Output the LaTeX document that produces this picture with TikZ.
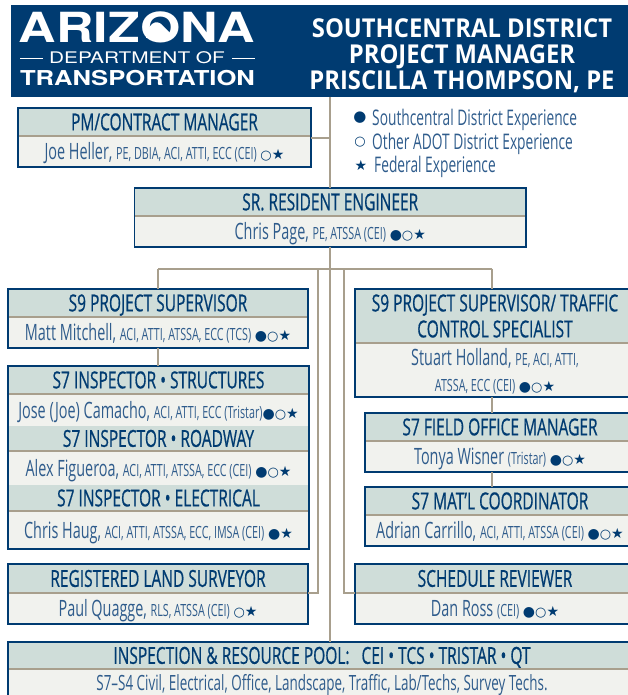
\documentclass[tikz,border=0pt]{standalone}
\usepackage{fontspec}
\setmainfont{Open Sans}
\newfontfamily\rolefont[FakeStretch=0.66,FakeBold=0.6]{Open Sans}
\newfontfamily\namefont[FakeStretch=0.64]{Open Sans}
\newfontfamily\headfont[FakeStretch=0.915]{Open Sans Bold}
\newfontfamily\logobold[FakeStretch=1.25]{TeX Gyre Heros Bold}
\newfontfamily\logothin[FakeStretch=1.30]{TeX Gyre Heros}
\newfontfamily\symfont{DejaVu Sans}
\definecolor{navy}{HTML}{003B71}
\definecolor{inkblue}{HTML}{2F5C8C}
\definecolor{rolefill}{HTML}{CFDDD9}
\definecolor{namefill}{HTML}{F1F2EE}
\definecolor{linktan}{HTML}{A89F8D}
\newcommand{\quals}[1]{{\fontsize{16.8}{18}\selectfont #1}}
\newcommand{\fullm}{{\fontsize{14}{14}\selectfont ●}}
\newcommand{\ringm}{{\fontsize{13}{14}\selectfont ○}}
\newcommand{\starm}{{\fontsize{14}{14}\selectfont ★}}
\newcommand{\exmarks}[1]{{\symfont\color{navy}#1}}
\tikzset{
	rolecell/.style={anchor=north west, inner sep=0pt, outer sep=0pt, fill=rolefill, text=navy, align=center, font=\rolefont\fontsize{23.5}{26}\selectfont, text height=20pt, text depth=3.3pt},
	namecell/.style={anchor=north west, inner sep=0pt, outer sep=0pt, fill=namefill, text=inkblue, align=center, font=\namefont\fontsize{22.5}{26}\selectfont, text height=20pt, text depth=3.9pt},
	tworole/.style={text height=47.3pt, text depth=4.5pt},
	twoname/.style={text height=47pt, text depth=4.9pt},
	legendtext/.style={anchor=west, inner sep=0pt, text=inkblue, font=\namefont\fontsize{21.5}{24}\selectfont},
	legendmark/.style={anchor=center, inner sep=0pt, text=navy, font=\symfont},
	rule/.style={draw=linktan, line width=1.5pt},
	frame/.style={draw=navy, line width=1.5pt},
	link/.style={draw=linktan, line width=2pt}
}
\begin{document}
\begin{tikzpicture}[x=1pt, y=-1pt]
			\useasboundingbox (0,0) rectangle (628,695);
			% capcalera
			\node[anchor=north west, inner sep=0pt, fill=navy, minimum width=625pt, minimum height=91.5pt] (hdr) at (11,5) {};
			\node[text=white, inner sep=0pt, font=\logobold\fontsize{41.5}{42}\selectfont] (logoa) at (137,27) {ARIZONA};
			\node[text=white, inner sep=0pt, font=\logothin\fontsize{16}{16}\selectfont] (logob) at (137,58) {DEPARTMENT OF};
			\node[text=white, inner sep=0pt, font=\logobold\fontsize{20.5}{20}\selectfont] (logoc) at (137.5,78.5) {TRANSPORTATION};
			\fill[white] (146,31) -- (152,24) .. controls (156,21) and (160,22) .. (163,26) -- (170,33) -- (172,38) -- (146,38) -- cycle;
			\coordinate (logoll) at (20,58);
			\coordinate (logolr) at (43,58);
			\coordinate (logorl) at (232,58);
			\coordinate (logorr) at (255,58);
			\draw[white, line width=0.7pt] (logoll) -- (logolr);
			\draw[white, line width=0.7pt] (logorl) -- (logorr);
			\node[text=white, inner sep=0pt, align=center, font=\headfont\fontsize{26}{26}\selectfont] (hdrtext) at (462,56) {SOUTHCENTRAL DISTRICT\\PROJECT MANAGER\\PRISCILLA THOMPSON, PE};
			% llegenda
			\node[legendmark] (legm1) at (360,118) {\fontsize{15}{15}\selectfont ●};
			\node[legendmark] (legm2) at (360,142) {\fontsize{13}{15}\selectfont ○};
			\node[legendmark] (legm3) at (361,165) {\fontsize{14}{15}\selectfont ★};
			\node[legendtext] (leg1) at (372,120) {Southcentral District Experience};
			\node[legendtext] (leg2) at (372,144) {Other ADOT District Experience};
			\node[legendtext] (leg3) at (374,167) {Federal Experience};
			% pm/contract manager
			\node[rolecell, minimum width=293pt, minimum height=28pt] (pmrole) at (18,108) {PM/CONTRACT MANAGER};
			\node[namecell, minimum width=293pt, minimum height=31pt] (pmname) at (18,136) {Joe Heller, \quals{PE, DBIA, ACI, ATTI, ECC (CEI)} \exmarks{\ringm\starm}};
			\draw[rule] (pmrole.south west) -- (pmrole.south east);
			\draw[frame] (pmrole.north west) rectangle (pmname.south east);
			% sr resident engineer
			\node[rolecell, minimum width=391.5pt, minimum height=28pt] (srrole) at (134.5,188) {SR. RESIDENT ENGINEER};
			\node[namecell, minimum width=391.5pt, minimum height=31pt] (srname) at (134.5,216) {Chris Page, \quals{PE, ATSSA (CEI)} \exmarks{\fullm\ringm\starm}};
			\draw[rule] (srrole.south west) -- (srrole.south east);
			\draw[frame] (srrole.north west) rectangle (srname.south east);
			% s9 esquerra
			\node[rolecell, minimum width=300pt, minimum height=28pt] (svrole) at (8,289) {S9 PROJECT SUPERVISOR};
			\node[namecell, minimum width=300pt, minimum height=31pt] (svname) at (8,317) {Matt Mitchell, \quals{ACI, ATTI, ATSSA, ECC (TCS)} \exmarks{\fullm\ringm\starm}};
			\draw[rule] (svrole.south west) -- (svrole.south east);
			\draw[frame] (svrole.north west) rectangle (svname.south east);
			% s7 inspectors
			\node[rolecell, minimum width=301pt, minimum height=28pt] (strole) at (8,366) {S7 INSPECTOR • STRUCTURES};
			\node[namecell, minimum width=301pt, minimum height=32pt] (stname) at (8,394) {Jose (Joe) Camacho, \quals{ACI, ATTI, ECC (Tristar)}\exmarks{\fullm\ringm\starm}};
			\node[rolecell, minimum width=301pt, minimum height=25pt] (rdrole) at (8,426) {S7 INSPECTOR • ROADWAY};
			\node[namecell, minimum width=301pt, minimum height=34pt] (rdname) at (8,451) {Alex Figueroa, \quals{ACI, ATTI, ATSSA, ECC (CEI)} \exmarks{\fullm\ringm\starm}};
			\node[rolecell, minimum width=301pt, minimum height=26pt] (elrole) at (8,485) {S7 INSPECTOR • ELECTRICAL};
			\node[namecell, minimum width=301pt, minimum height=38pt] (elname) at (8,511) {Chris Haug, \quals{ACI, ATTI, ATSSA, ECC, IMSA (CEI)} \exmarks{\fullm\starm}};
			\draw[rule] (strole.south west) -- (strole.south east);
			\draw[rule] (rdrole.south west) -- (rdrole.south east);
			\draw[rule] (elrole.south west) -- (elrole.south east);
			\draw[frame] (strole.north west) rectangle (elname.south east);
			% s9 dreta
			\node[rolecell, tworole, minimum width=280pt, minimum height=54pt] (tcrole) at (355,289) {S9 PROJECT SUPERVISOR/ TRAFFIC\\CONTROL SPECIALIST};
			\node[namecell, twoname, minimum width=280pt, minimum height=54pt] (tcname) at (355,343) {Stuart Holland, \quals{PE, ACI, ATTI,}\\\quals{ATSSA, ECC (CEI)} \exmarks{\fullm\ringm\starm}};
			\draw[rule] (tcrole.south west) -- (tcrole.south east);
			\draw[frame] (tcrole.north west) rectangle (tcname.south east);
			% s7 oficina
			\node[rolecell, minimum width=270pt, minimum height=28pt] (forole) at (365,413) {S7 FIELD OFFICE MANAGER};
			\node[namecell, minimum width=270pt, minimum height=31pt] (foname) at (365,441) {Tonya Wisner \quals{(Tristar)} \exmarks{\fullm\ringm\starm}};
			\draw[rule] (forole.south west) -- (forole.south east);
			\draw[frame] (forole.north west) rectangle (foname.south east);
			% s7 materials
			\node[rolecell, minimum width=270pt, minimum height=28pt] (mtrole) at (365,487) {S7 MAT’L COORDINATOR};
			\node[namecell, minimum width=270pt, minimum height=31pt] (mtname) at (365,515) {Adrian Carrillo, \quals{ACI, ATTI, ATSSA (CEI)} \exmarks{\fullm\ringm\starm}};
			\draw[rule] (mtrole.south west) -- (mtrole.south east);
			\draw[frame] (mtrole.north west) rectangle (mtname.south east);
			% topograf
			\node[rolecell, minimum width=300pt, minimum height=29pt] (lsrole) at (8,564) {REGISTERED LAND SURVEYOR};
			\node[namecell, minimum width=300pt, minimum height=31pt] (lsname) at (8,593) {Paul Quagge, \quals{RLS, ATSSA (CEI)} \exmarks{\ringm\starm}};
			\draw[rule] (lsrole.south west) -- (lsrole.south east);
			\draw[frame] (lsrole.north west) rectangle (lsname.south east);
			% planificacio
			\node[rolecell, minimum width=280pt, minimum height=29pt] (scrole) at (355,564) {SCHEDULE REVIEWER};
			\node[namecell, minimum width=280pt, minimum height=31pt] (scname) at (355,593) {Dan Ross \quals{(CEI)} \exmarks{\fullm\ringm\starm}};
			\draw[rule] (scrole.south west) -- (scrole.south east);
			\draw[frame] (scrole.north west) rectangle (scname.south east);
			% pool
			\node[rolecell, minimum width=628pt, minimum height=27pt] (pool) at (8,642) {INSPECTION \& RESOURCE POOL:\hspace{12pt}CEI • TCS • TRISTAR • QT};
			\node[namecell, minimum width=628pt, minimum height=27pt, text height=19pt, text depth=4pt, font=\namefont\fontsize{21}{26}\selectfont] (poolname) at (8,669) {S7–S4 Civil, Electrical, Office, Landscape, Traffic, Lab/Techs, Survey Techs.};
			\draw[rule] (pool.south west) -- (pool.south east);
			\draw[frame] (pool.north west) rectangle (poolname.south east);
			% linies
			\coordinate (busleft) at (158,268.5);
			\coordinate (busright) at (492,268.5);
			\coordinate (dropleft) at (318,268.5);
			\coordinate (dropright) at (344,268.5);
			\draw[link] (srrole.north |- hdr.south) -- (srrole.north);
			\draw[link] (srname.south) -- (srname.south |- pool.north);
			\draw[link] ([yshift=-2pt]pmrole.south east) -- ([yshift=-2pt]pmrole.south east -| srrole.north);
			\draw[link] (busleft) -- (busright);
			\draw[link] (busleft) -- (svrole.north);
			\draw[link] (svname.south) -- (svname.south |- strole.north);
			\draw[link] (dropleft) |- (lsrole.south east);
			\draw[link] (dropright) |- (scrole.south west);
			\draw[link] (busright) -- (busright |- tcrole.north);
			\draw[link] (busright |- tcname.south) -- (busright |- forole.north);
			\draw[link] (busright |- foname.south) -- (busright |- mtrole.north);
		\end{tikzpicture}
\end{document}
